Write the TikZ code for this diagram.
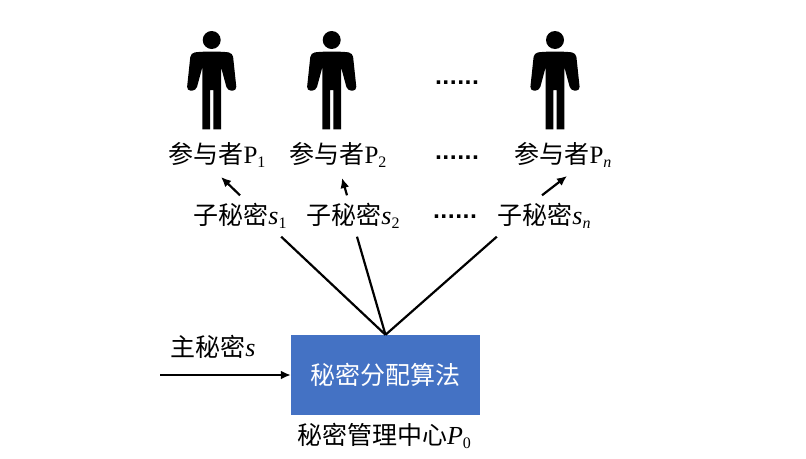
\documentclass[tikz,border=0pt]{standalone}
\usepackage{fontspec}
\setmainfont{Noto Sans CJK SC}
\newfontfamily\latinfont{Liberation Serif}
\newfontfamily\dotfont{DejaVu Sans}
\usetikzlibrary{arrows.meta}
\definecolor{algblue}{HTML}{4472C4}
\newcommand{\lowidx}[1]{\raisebox{-4.5pt}{\fontsize{16}{16}\selectfont #1}}
\newcommand{\itsym}[2]{{\latinfont\fontsize{26}{28}\selectfont\textit{#1}\lowidx{#2}}}
\begin{document}
\begin{tikzpicture}[
        x=1pt, y=-1pt,
        label/.style={inner sep=0pt, font=\fontsize{25}{30}\selectfont},
        subkey/.style={label, minimum height=41pt, minimum width=94pt},
        dots/.style={inner sep=0pt, font=\dotfont\bfseries\fontsize{19.5}{30}\selectfont},
        alg/.style={rectangle, fill=algblue, text=white, inner sep=0pt, minimum width=189pt, minimum height=80pt, font=\fontsize{25}{30}\selectfont},
        link/.style={draw=black, line width=2.2pt},
        arr/.style={link, -{Latex[length=10pt,width=9pt]}},
        person/.pic={
            \fill[black] (0,0) circle (9);
            \fill[black, rounded corners=4pt]
                (-11.7,11.7) -- (-21,13) -- (-25,50.7) -- (-15.7,50.7) [rounded corners=1pt] -- (-9.3,27)
                [sharp corners] -- (-9.3,89.3) -- (-1.7,89.3) -- (-1.7,50) -- (1.7,50) -- (1.7,89.3) -- (9.3,89.3)
                [rounded corners=1pt] -- (9.3,27) [rounded corners=4pt] -- (15.7,50.7) -- (25,50.7) -- (21,13) -- (11.7,11.7) -- cycle;
        }
    ]
    \useasboundingbox (0,0) rectangle (806,458);
    \pic (man1) at (211.7,40) {person};
    \pic (man2) at (331.7,40) {person};
    \pic (mann) at (555,40) {person};
    \node[dots] (dots1) at (457,83) {......};
    \node[label] (part1) at (217,155) {参与者{\latinfont P\lowidx{1}}};
    \node[label] (part2) at (338,155) {参与者{\latinfont P\lowidx{2}}};
    \node[dots] (dots2) at (457,158) {......};
    \node[label] (partn) at (563,155) {参与者{\latinfont P\lowidx{\itshape n}}};
    \node[subkey] (sub1) at (240,216) {子秘密\itsym{s}{1}};
    \node[subkey] (sub2) at (353,216) {子秘密\itsym{s}{2}};
    \node[dots] (dots3) at (455,217) {......};
    \node[subkey] (subn) at (544,216) {子秘密\itsym{s}{\itshape n}};
    \node[alg] (algo) at (385.5,375) {秘密分配算法};
    \node[label] (master) at (213,347) {主秘密{\latinfont\fontsize{26}{28}\selectfont\textit{s}}};
    \node[label] (center) at (384,436) {秘密管理中心\itsym{P}{0}};
    \coordinate (input) at (160,375);
    \coordinate (tip1) at (221,177);
    \coordinate (tip2) at (342,178);
    \coordinate (tipn) at (567,176);
    \draw[arr] (sub1.north) -- (tip1);
    \draw[arr] ([xshift=-6pt]sub2.north) -- (tip2);
    \draw[arr] ([xshift=-2pt]subn.north) -- (tipn);
    \draw[link] (algo.north) -- ([xshift=-6pt]sub1.south east);
    \draw[link] (algo.north) -- ([xshift=4pt]sub2.south);
    \draw[link] (algo.north) -- (subn.south west);
    \draw[arr] (input) -- (algo.west);
\end{tikzpicture}
\end{document}
